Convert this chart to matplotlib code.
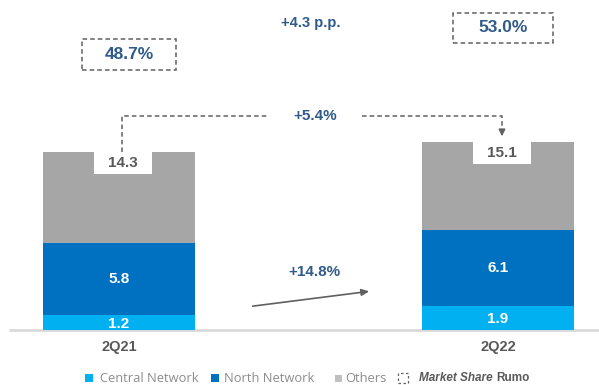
import matplotlib
matplotlib.use("Agg")
import matplotlib.pyplot as plt
from matplotlib.patches import Rectangle, FancyArrowPatch

# ---- data ----
categories = ["2Q21", "2Q22"]
central = [1.2, 1.9]
north = [5.8, 6.1]
others = [7.3, 7.1]
totals = [14.3, 15.1]
market_share = ["48.7%", "53.0%"]
share_change = "+4.3 p.p."
total_change = "+5.4%"
north_change = "+14.8%"

C_CENTRAL = "#00B0F0"
C_NORTH = "#0070C0"
C_OTHERS = "#A6A6A6"
C_TEXT = "#2F5A8A"
C_DARK = "#595959"

W, H = 599, 385
fig = plt.figure(figsize=(W / 100, H / 100), dpi=100)
ax = fig.add_axes([0, 0, 1, 1])

# pixel -> data helpers (layout only)
X0, XS = 119.0, 379.0   # pixel of category 0, pixels per category step
Y0, YS = 330.0, 12.47   # pixel of baseline, pixels per unit
def px(p): return (p - X0) / XS
def py(p): return (Y0 - p) / YS

ax.set_xlim(px(0), px(W))
ax.set_ylim(py(H), py(0))
ax.axis("off")

FN = ["Liberation Sans", "DejaVu Sans"]

xs = list(range(len(categories)))
bw = 152 / XS
ax.bar(xs, central, bw, color=C_CENTRAL, zorder=2)
ax.bar(xs, north, bw, bottom=central, color=C_NORTH, zorder=2)
bot3 = [c + n for c, n in zip(central, north)]
ax.bar(xs, others, bw, bottom=bot3, color=C_OTHERS, zorder=2)

# baseline
ax.plot([px(9), px(W)], [0, 0], color="#D9D9D9", lw=2, zorder=1, solid_capstyle="butt")

for i, x in enumerate(xs):
    ax.text(x, central[i] / 2 - 0.1, f"{central[i]:.1f}", color="white", ha="center", va="center",
            fontsize=11, fontweight="bold", family=FN, zorder=3)
    ax.text(x, central[i] + north[i] / 2, f"{north[i]:.1f}", color="white", ha="center", va="center",
            fontsize=11, fontweight="bold", family=FN, zorder=3)
    # white box for total inside top of bar
    top = totals[i]
    bh = 22 / YS
    cx = x + 4 / XS
    ax.add_patch(Rectangle((cx - 29 / XS, top - bh), 58 / XS, bh, color="white", zorder=3, lw=0))
    ax.text(cx, top - bh / 2, f"{totals[i]:.1f}", color=C_DARK, ha="center", va="center",
            fontsize=11, fontweight="bold", family=FN, zorder=4)
    ax.text(x, py(347), categories[i], color=C_DARK, ha="center", va="center",
            fontsize=10.5, fontweight="bold", family=FN)

# market share dashed boxes
boxes = [(82, 39, 176, 70), (453, 13, 553, 43)]
for (x1, y1, x2, y2), lab in zip(boxes, market_share):
    ax.add_patch(Rectangle((px(x1), py(y2)), px(x2) - px(x1), py(y1) - py(y2), fill=False,
                           edgecolor="#606060", lw=1.1, ls=(0, (3, 2))))
    ax.text(px((x1 + x2) / 2), py((y1 + y2) / 2), lab, color=C_TEXT, ha="center", va="center",
            fontsize=12.5, fontweight="bold", family=FN)

ax.text(px(311), py(23), share_change, color=C_TEXT, ha="center", va="center",
        fontsize=10.5, fontweight="bold", family=FN)

# total change connector
dash = dict(color="#606060", lw=1.1, ls=(0, (3, 2)))
ax.plot([px(122.5), px(122.5), px(268)], [totals[0], py(115.5), py(115.5)], **dash)
ax.plot([px(362), px(502), px(502)], [py(115.5), py(115.5), py(132)], **dash)
ax.annotate("", xy=(px(502), py(139)), xytext=(px(502), py(130)),
            arrowprops=dict(arrowstyle="-|>,head_width=0.2,head_length=0.4", color="#606060", lw=1))
ax.text(px(315), py(116.5), total_change, color=C_TEXT, ha="center", va="center",
        fontsize=11, fontweight="bold", family=FN)

# north change arrow
ax.add_patch(FancyArrowPatch((px(250), py(306.5)), (px(372), py(291)),
                             arrowstyle="-|>,head_width=0.2,head_length=0.45", color="#606060", lw=1.2,
                             mutation_scale=10))
ax.text(px(314), py(272), north_change, color=C_TEXT, ha="center", va="center",
        fontsize=11, fontweight="bold", family=FN)

# legend (drawn manually)
LY = 378
LF = ["Open Sans", "DejaVu Sans"]
def sq(x, color, s=8):
    ax.add_patch(Rectangle((px(x), py(LY + s / 2)), s / XS, s / YS, color=color, lw=0))
sq(85, C_CENTRAL)
ax.text(px(100), py(LY), "Central Network", color="#8C8C8C", fontsize=9.3, va="center", family=LF)
sq(211, C_NORTH)
ax.text(px(224), py(LY), "North Network", color="#8C8C8C", fontsize=9.3, va="center", family=LF)
sq(335, "#BFBFBF", 7)
ax.text(px(345), py(LY), "Others", color="#8C8C8C", fontsize=9.3, va="center", family=LF)
ax.add_patch(Rectangle((px(398), py(LY + 5)), 10 / XS, 10 / YS, fill=False, edgecolor="#606060",
                       lw=0.9, ls=(0, (2, 2))))
ax.text(px(419), py(LY), "Market Share", color=C_DARK, fontsize=8.5, va="center",
        fontweight="bold", style="italic", family=FN)
ax.text(px(496), py(LY), "Rumo", color=C_DARK, fontsize=8.5, va="center", fontweight="bold", family=FN)

fig.savefig("out.png", dpi=100, facecolor="white")
